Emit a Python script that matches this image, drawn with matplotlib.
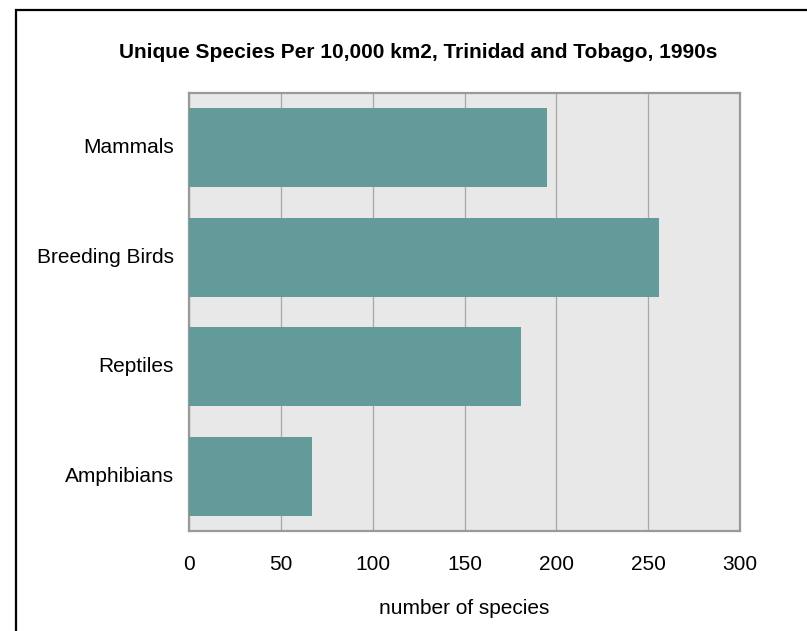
import matplotlib
matplotlib.use("Agg")
import matplotlib.pyplot as plt
from matplotlib.patches import Rectangle

plt.rcParams['font.family'] = ['Liberation Sans', 'DejaVu Sans']

# data
categories = ['Mammals', 'Breeding Birds', 'Reptiles', 'Amphibians']
species = [195, 256, 181, 67]
xticks = [0, 50, 100, 150, 200, 250, 300]

W, H = 807, 631
fig = plt.figure(figsize=(W / 100, H / 100), dpi=100)
fig.patch.set_facecolor('white')

# black outer border (runs off right/bottom edge in the reference)
fig.patches.append(Rectangle((16 / W, -0.1), 1.2, 1.1 - 10 / H, transform=fig.transFigure,
                             fill=False, edgecolor='black', linewidth=1.6))

ax = fig.add_axes([189 / W, 100 / H, 551 / W, 438 / H])
ax.set_facecolor('#e8e8e8')

ypos = list(range(len(categories)))
ax.barh(ypos, species, height=0.72, color='#639a9a', zorder=3)

ax.set_yticks(ypos)
ax.set_yticklabels(categories, fontsize=15)
ax.set_ylim(len(categories) - 0.5, -0.5)
ax.set_xlim(0, 300)
ax.set_xticks(xticks)
ax.set_xticklabels([str(t) for t in xticks], fontsize=15)
ax.tick_params(length=0, pad=11)
ax.tick_params(axis='x', pad=17)
ax.grid(axis='x', color='#a8a8a8', linewidth=0.9, zorder=1)
for s in ax.spines.values():
    s.set_color('#999999')
    s.set_linewidth(1.6)
# labels sit a touch high in the reference
for lbl in ax.get_yticklabels():
    lbl.set_y(lbl.get_position()[1])
    lbl.set_verticalalignment('center')

ax.set_xlabel('number of species', fontsize=15, labelpad=18)
fig.text(418 / W, 1 - 52 / H,
         'Unique Species Per 10,000 km2, Trinidad and Tobago, 1990s',
         ha='center', va='center', fontsize=15, fontweight='bold')

fig.savefig('out.png', dpi=100)
